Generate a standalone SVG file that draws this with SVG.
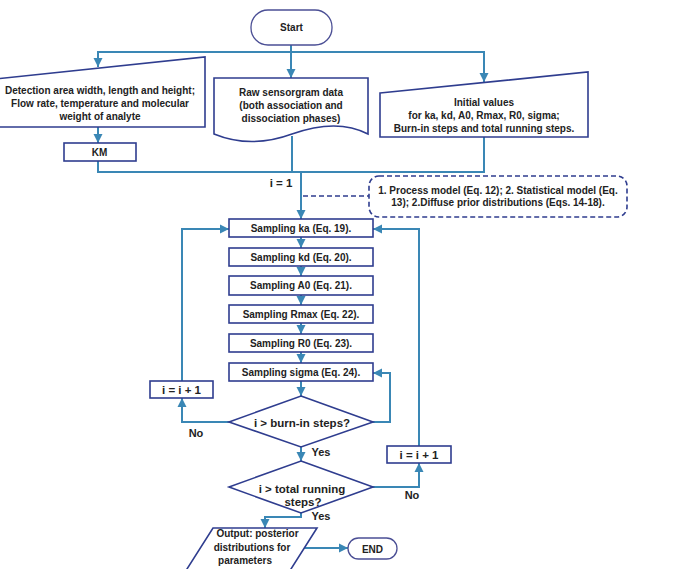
<svg xmlns="http://www.w3.org/2000/svg" width="677" height="569" viewBox="0 0 677 569">
<style>
.bx{fill:#fff;stroke:#2f3d8f;stroke-width:1.6}
.tm{fill:#fff;stroke:#4b4f95;stroke-width:1.3}
.cn{fill:none;stroke:#3a87b5;stroke-width:2}
.ds{fill:none;stroke:#2f3d8f;stroke-width:1.6;stroke-dasharray:5,3}
text{font-family:"Liberation Sans",Arial,sans-serif;font-weight:bold;font-size:10px;fill:#222;text-anchor:middle}
.lg{font-size:11.5px}
.lb{font-size:11px}
</style>
<defs>
<marker id="ah" viewBox="0 0 10 10" refX="10" refY="5" markerWidth="9" markerHeight="11" markerUnits="userSpaceOnUse" orient="auto">
<path d="M0,0 L10,5 L0,10 Z" fill="#3a87b5"/>
</marker>
</defs>
<rect width="677" height="569" fill="#fff"/>
<g id="connectors">
<path class="cn" d="M291,45 V78" marker-end="url(#ah)"/>
<path class="cn" d="M291,52 H98 V67" marker-end="url(#ah)"/>
<path class="cn" d="M291,52 H484 V82" marker-end="url(#ah)"/>
<path class="cn" d="M98,127 V143" marker-end="url(#ah)"/>
<path class="cn" d="M98,161 V172 H484 V137"/>
<path class="cn" d="M292,136 V172"/>
<path class="cn" d="M301,172 V219" marker-end="url(#ah)"/>
<path class="ds" d="M303,196 H369"/>
<path class="cn" d="M301,237 V248" marker-end="url(#ah)"/>
<path class="cn" d="M301,266 V276" marker-end="url(#ah)"/>
<path class="cn" d="M301,295 V305" marker-end="url(#ah)"/>
<path class="cn" d="M301,323 V334" marker-end="url(#ah)"/>
<path class="cn" d="M301,352 V363" marker-end="url(#ah)"/>
<path class="cn" d="M301,381 V396" marker-end="url(#ah)"/>
<path class="cn" d="M229,422 H182 V398" marker-end="url(#ah)"/>
<path class="cn" d="M182,381 V229 H229" marker-end="url(#ah)"/>
<path class="cn" d="M373,422 H390 V373 H373" marker-end="url(#ah)"/>
<path class="cn" d="M301,447 V461" marker-end="url(#ah)"/>
<path class="cn" d="M373,487 H419 V463" marker-end="url(#ah)"/>
<path class="cn" d="M419,446 V229 H373" marker-end="url(#ah)"/>
<path class="cn" d="M301,513 V517 H265 V528" marker-end="url(#ah)"/>
<path class="cn" d="M304,548 H348" marker-end="url(#ah)"/>
</g>
<g id="start">
<rect class="tm" x="251" y="10" width="81" height="35" rx="17"/>
<text x="291.5" y="31">Start</text>
</g>
<g id="detection">
<path class="bx" d="M-5,79 L205,57 L205,127 L-5,127 Z"/>
<text x="100" y="93.5">Detection area width, length and height;</text>
<text x="100" y="106.5">Flow rate, temperature and molecular</text>
<text x="100" y="119.5">weight of analyte</text>
</g>
<g id="km">
<rect class="bx" x="64" y="143" width="72" height="18"/>
<text x="99.5" y="155.5" fill="#3d4a80">KM</text>
</g>
<g id="raw">
<path class="bx" d="M214,78 H368 V134 C345,122 320,124 292,134 C262,145 236,143 214,134 Z"/>
<text x="291" y="95.5">Raw sensorgram data</text>
<text x="291" y="108.5">(both association and</text>
<text x="291" y="121.5">dissociation phases)</text>
</g>
<g id="initial">
<path class="bx" d="M380,93 L588,72 L588,137 L380,137 Z"/>
<text x="484" y="105.5">Initial values</text>
<text x="484" y="118.5">for ka, kd, A0, Rmax, R0, sigma;</text>
<text x="484" y="131.5">Burn-in steps and total running steps.</text>
</g>
<text class="lg" x="281" y="187">i = 1</text>
<g id="note">
<rect class="ds" x="369" y="176" width="258" height="41" rx="10"/>
<text x="498" y="193.5">1. Process model (Eq. 12); 2. Statistical model (Eq.</text>
<text x="498" y="206">13); 2.Diffuse prior distributions (Eqs. 14-18).</text>
</g>
<g id="ska"><rect class="bx" x="229" y="219" width="144" height="18"/><text x="301" y="231.5">Sampling ka (Eq. 19).</text></g>
<g id="skd"><rect class="bx" x="229" y="248" width="144" height="18"/><text x="301" y="260.5">Sampling kd (Eq. 20).</text></g>
<g id="sa0"><rect class="bx" x="229" y="276" width="144" height="19"/><text x="301" y="289">Sampling A0 (Eq. 21).</text></g>
<g id="srmax"><rect class="bx" x="229" y="305" width="144" height="18"/><text x="301" y="317.5">Sampling Rmax (Eq. 22).</text></g>
<g id="sr0"><rect class="bx" x="229" y="334" width="144" height="18"/><text x="301" y="346.5">Sampling R0 (Eq. 23).</text></g>
<g id="ssigma"><rect class="bx" x="229" y="363" width="144" height="18"/><text x="301" y="375.5">Sampling sigma (Eq. 24).</text></g>
<g id="inc1"><rect class="bx" x="150" y="381" width="63" height="17"/><text class="lg" x="181.5" y="393.5" fill="#3d4a80">i = i + 1</text></g>
<g id="inc2"><rect class="bx" x="387" y="446" width="64" height="17"/><text class="lg" x="419" y="458.5" fill="#3d4a80">i = i + 1</text></g>
<g id="burnin">
<path class="bx" d="M301,396 L373,422 L301,447 L229,422 Z"/>
<text class="lg" x="302" y="427">i &gt; burn-in steps?</text>
</g>
<g id="total">
<path class="bx" d="M301,461 L373,487 L301,513 L229,487 Z"/>
<text class="lg" x="302" y="493">i &gt; total running</text>
<text class="lg" x="303" y="506">steps?</text>
</g>
<text class="lb" x="196" y="437">No</text>
<text class="lb" x="321" y="456">Yes</text>
<text class="lb" x="412" y="499">No</text>
<text class="lb" x="321" y="520">Yes</text>
<g id="output">
<path class="bx" d="M213,528 L317,528 L284,580 L180,580 Z"/>
<text x="257.5" y="537">Output: posterior</text>
<text x="252" y="550.5">distributions  for</text>
<text x="245" y="563.5">parameters</text>
</g>
<g id="end">
<rect class="tm" x="348" y="538" width="49" height="21" rx="10.5"/>
<text x="372.5" y="552.5">END</text>
</g>
</svg>
